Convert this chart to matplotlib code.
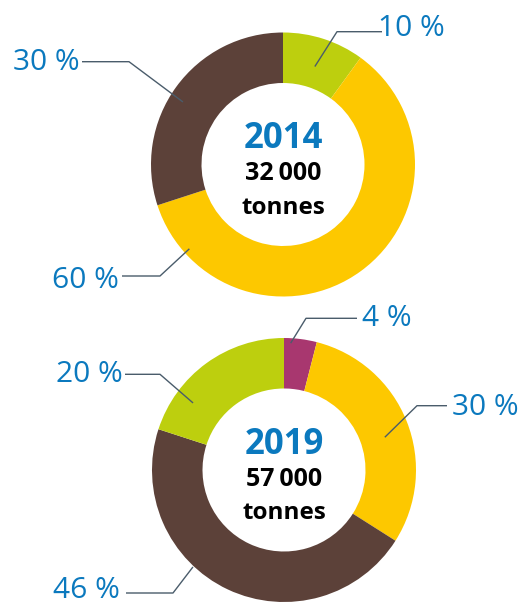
import numpy as np
import matplotlib.pyplot as plt

# donut data
years = ['2014', '2019']
totals = ['32\u2009000', '57\u2009000']
shares_2014 = [10, 60, 30]
shares_2019 = [4, 30, 46, 20]

GREEN = '#bdcf0e'
YELLOW = '#fdc800'
BROWN = '#5c4139'
MAGENTA = '#a8376f'
BLUE = '#0b79be'
LINE = '#4a5c6b'

colors_2014 = [GREEN, YELLOW, BROWN]
colors_2019 = [MAGENTA, YELLOW, BROWN, GREEN]

W, H = 525, 603
R_OUT, R_IN = 132, 81.5

# layout: donut centres in pixels from top-left
centres = [(283, 164.5), (284, 470)]

# leader lines, one per slice in slice order:
# (anchor angle, anchor radius, elbow x, elbow y, line end x,
#  text x, text baseline y, text alignment)
callouts_2014 = [
    (72, 103, 337, 31.7, 382, 378, 36.5, 'left'),
    (222, 126, 160, 276, 122, 119, 288, 'right'),
    (148, 118, 129, 61.7, 82, 80, 70, 'right'),
]
callouts_2019 = [
    (87, 127, 306, 318.3, 357, 362, 326.5, 'left'),
    (18, 106, 417, 405.7, 447, 452, 415, 'left'),
    (226.8, 133, 173, 593, 126, 120, 597.5, 'right'),
    (143.6, 113, 160, 374.3, 125, 123, 381.5, 'right'),
]

FAM = ['Open Sans', 'DejaVu Sans']


def fy(y):
    return H - y


fig = plt.figure(figsize=(W / 100, H / 100), dpi=100)
ax = fig.add_axes([0, 0, 1, 1])

for (cx, cy), shares, cols, callouts, year, total in zip(
        centres, [shares_2014, shares_2019], [colors_2014, colors_2019],
        [callouts_2014, callouts_2019], years, totals):
    ax.pie(shares, colors=cols, startangle=90, counterclock=False,
           center=(cx, fy(cy)), radius=R_OUT,
           wedgeprops=dict(width=R_OUT - R_IN, linewidth=0))

    for share, (ang, r, ex, ey, lx, tx, ty, ha) in zip(shares, callouts):
        axp = cx + r * np.cos(np.radians(ang))
        ayp = fy(cy) + r * np.sin(np.radians(ang))
        ax.plot([axp, ex, lx], [ayp, fy(ey), fy(ey)], color=LINE, lw=1.0,
                solid_capstyle='butt', zorder=3)
        ax.text(tx, fy(ty), f'{share} %', ha=ha, va='baseline',
                color=BLUE, fontsize=21.5, family=FAM)

    ax.text(cx, fy(cy - 16.5), year, ha='center', va='baseline',
            color=BLUE, fontsize=25, fontweight='bold', family=FAM)
    ax.text(cx, fy(cy + 16), total, ha='center', va='baseline',
            color='black', fontsize=18, fontweight='bold', family=FAM)
    ax.text(cx, fy(cy + 49), 'tonnes', ha='center', va='baseline',
            color='black', fontsize=17.5, fontweight='bold', family=FAM)

ax.set_xlim(0, W)
ax.set_ylim(0, H)
ax.set_aspect('equal')
ax.axis('off')

fig.savefig('out.png', dpi=100, facecolor='white')
